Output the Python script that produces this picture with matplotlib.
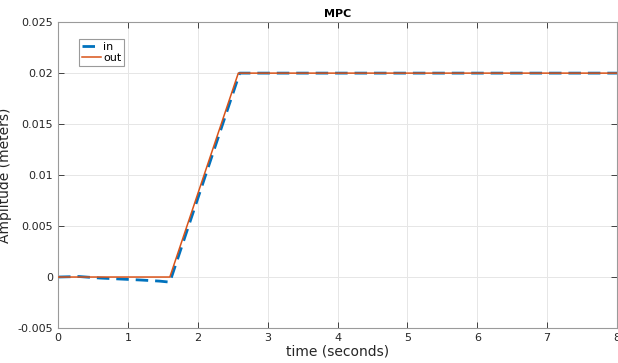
import numpy as np
import matplotlib
matplotlib.use('Agg')
import matplotlib.pyplot as plt

# reference input and MPC output (time in seconds, amplitude in meters)
t_in = [0, 0.3, 0.6, 0.9, 1.2, 1.45, 1.6, 2.6, 8]
y_in = [0, 0.00005, -0.0001, -0.0002, -0.0003, -0.0004, -0.0005, 0.02, 0.02]
t_out = [0, 1.6, 2.58, 8]
y_out = [0, 0, 0.02, 0.02]

plt.rcParams['font.family'] = 'DejaVu Sans'
fig = plt.figure(figsize=(6.18, 3.63), dpi=100)
ax = fig.add_axes([0.0939, 0.0964, 0.9045, 0.8426])

ax.plot(t_in, y_in, color='#0072BD', linewidth=2, linestyle=(0, (4.5, 2.5)), label='in', zorder=2)
ax.plot(t_out, y_out, color='#D95319', linewidth=1.1, label='out', zorder=3)

ax.set_xlim(0, 8)
ax.set_ylim(-0.005, 0.025)
ax.set_xticks(np.arange(0, 9, 1))
ax.set_yticks([-0.005, 0, 0.005, 0.01, 0.015, 0.02, 0.025])
ax.set_yticklabels(['-0.005', '0', '0.005', '0.01', '0.015', '0.02', '0.025'])
ax.tick_params(direction='in', top=True, right=True, labelsize=8, colors='#262626',
               length=4, width=0.6)
for s in ax.spines.values():
    s.set_color('#9a9a9a')
    s.set_linewidth(0.8)
ax.grid(True, color='#e6e6e6', linewidth=0.7)
ax.set_axisbelow(True)

ax.set_xlabel('time (seconds)', fontsize=10, color='#262626', labelpad=1)
ax.set_ylabel('Amplitude (meters)', fontsize=10, color='#262626', labelpad=4)
ax.set_title('MPC', fontsize=8, fontweight='bold', pad=4)

leg = ax.legend(loc='upper left', bbox_to_anchor=(0.038, 0.945), fontsize=8,
                handlelength=1.7, handletextpad=0.2, borderpad=0.25, labelspacing=0.1,
                fancybox=False, framealpha=1, borderaxespad=0)
leg.get_frame().set_edgecolor('#9a9a9a')
leg.get_frame().set_linewidth(0.8)

fig.savefig('out.png', dpi=100, facecolor='white')
